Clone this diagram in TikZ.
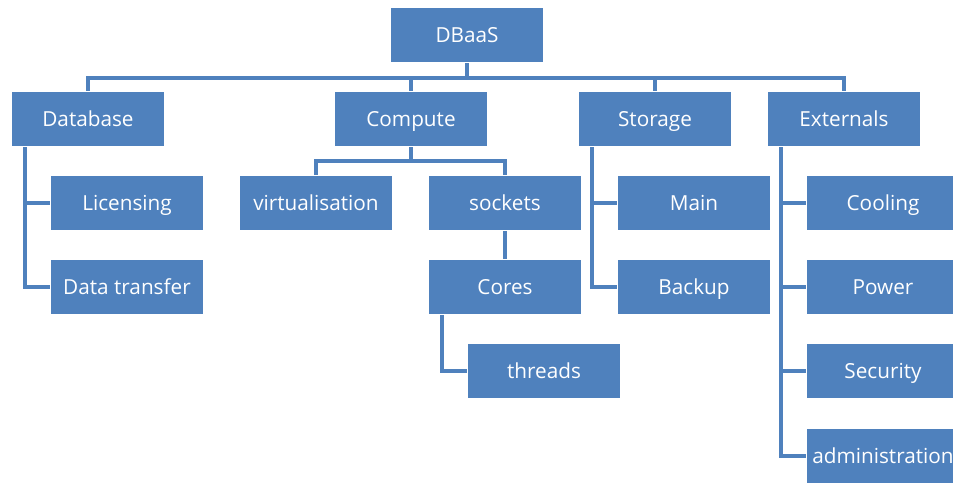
\documentclass[tikz,border=0pt]{standalone}
\usepackage{fontspec}
\setmainfont{Open Sans}
\usetikzlibrary{backgrounds}

\definecolor{orgblue}{HTML}{4F81BD}

\begin{document}
\begin{tikzpicture}[x=0.02cm, y=-0.02cm,
every node/.style = {shape=rectangle, align=center, fill=orgblue, draw=white, line width=0.6pt,
  text=white, minimum width=3.06cm, minimum height=1.1cm, inner sep=0pt,
  text height=1.8ex, text depth=0.25ex, font=\fontsize{11.8}{14}\selectfont},
link/.style={draw=orgblue, line width=1.8pt}]
%
\clip (0,0) rectangle (953,483);
% top
\node (dbaas) at (467,35) {DBaaS};
\node (database) at (88,119) {Database};
\node (compute) at (411,119) {Compute};
\node (storage) at (655,119) {Storage};
\node (externals) at (844,119) {Externals};
% database
\node (licensing) at (127,203) {Licensing};
\node (transfer) at (127,287) {Data transfer};
% compute
\node (virtualisation) at (316,203) {virtualisation};
\node (sockets) at (505,203) {sockets};
\node (cores) at (505,287) {Cores};
\node (threads) at (544,371) {threads};
% storage
\node (main) at (694,203) {Main};
\node (backup) at (694,287) {Backup};
% externals
\node (cooling) at (883,203) {Cooling};
\node (power) at (883,287) {Power};
\node (security) at (883,371) {Security};
\node (admin) at (883,456) {administration};
%
\begin{scope}[on background layer]
\foreach \n in {database, compute, storage, externals}
  \draw[link] (dbaas.south) -- ++(0,15) -| (\n.north);
\foreach \n in {licensing, transfer}
  \draw[link] ([xshift=0.28cm]database.south west) |- (\n.west);
\foreach \n in {virtualisation, sockets}
  \draw[link] (compute.south) -- ++(0,14) -| (\n.north);
\draw[link] (sockets) -- (cores);
\draw[link] ([xshift=0.28cm]cores.south west) |- (threads.west);
\foreach \n in {main, backup}
  \draw[link] ([xshift=0.28cm]storage.south west) |- (\n.west);
\foreach \n in {cooling, power, security, admin}
  \draw[link] ([xshift=0.28cm]externals.south west) |- (\n.west);
\end{scope}
\end{tikzpicture}
\end{document}
